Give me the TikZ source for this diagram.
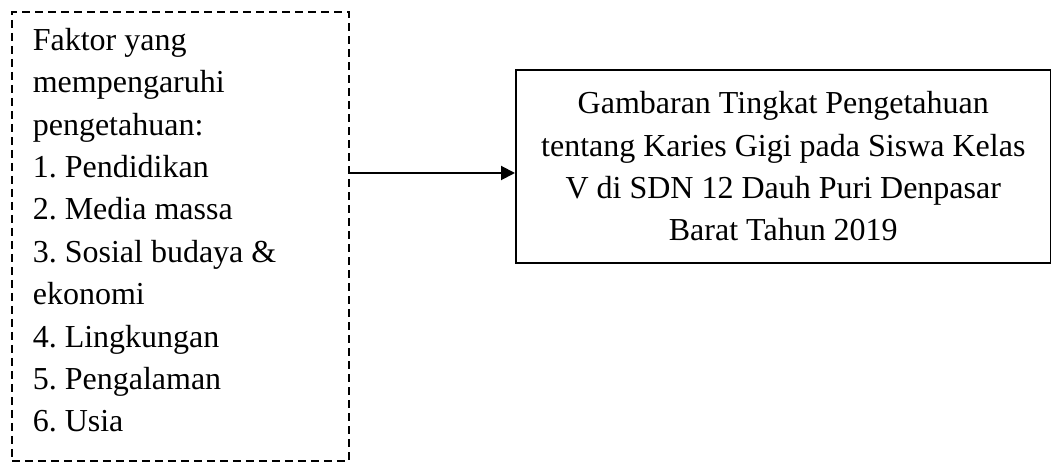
\documentclass[tikz,border=0pt]{standalone}
\usepackage{fontspec}
\setmainfont{Liberation Serif}
\usetikzlibrary{arrows.meta}
\begin{document}
\begin{tikzpicture}[x=0.5pt, y=-0.5pt,
    faktorbox/.style={draw, dash pattern=on 4pt off 2.5pt, line width=0.8pt,
      anchor=north west, minimum width=337*0.5pt, minimum height=449*0.5pt,
      text width=295*0.5pt, inner xsep=10.5pt, align=flush left},
    judulbox/.style={draw, line width=0.8pt, anchor=north west,
      minimum width=535*0.5pt, minimum height=193*0.5pt, align=center},
    panah/.style={-{Triangle[length=7pt, width=7pt]}, line width=1pt}]
  \fontsize{16pt}{21.2pt}\selectfont\frenchspacing
  \useasboundingbox (0,0) rectangle (1051,464);
  \node [faktorbox] (faktor) at (11,11)
    {Faktor yang\\ mempengaruhi\\ pengetahuan:\\ 1. Pendidikan\\
     2. Media massa\\ 3. Sosial budaya \&\\ ekonomi\\ 4. Lingkungan\\
     5. Pengalaman\\ 6. Usia\strut};
  \node [judulbox] (judul) at (515,69)
    {Gambaran Tingkat Pengetahuan\\ tentang Karies Gigi pada Siswa Kelas\\
     V di SDN 12 Dauh Puri Denpasar\\ Barat Tahun 2019};
  \coordinate (tengah) at (0,173);
  \draw [panah] (faktor.east |- tengah) -- (judul.west |- tengah);
\end{tikzpicture}
\end{document}
